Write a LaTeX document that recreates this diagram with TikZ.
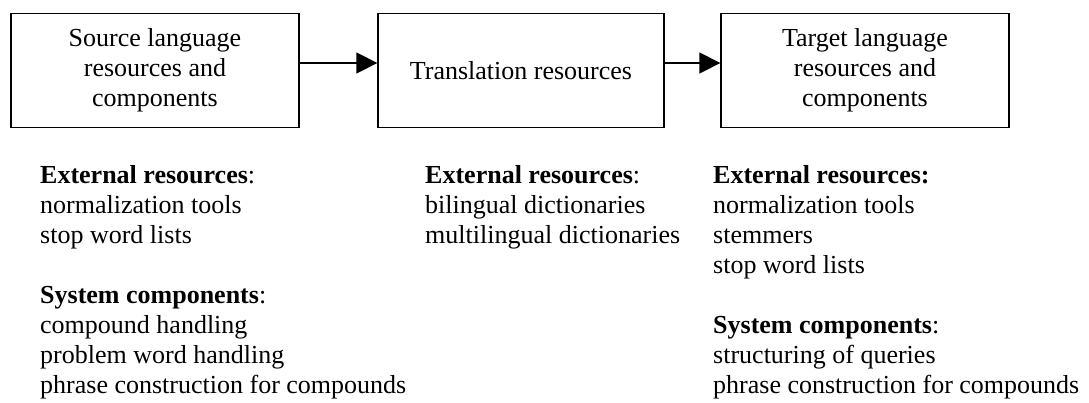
\documentclass[tikz,border=0pt]{standalone}
\usepackage{fontspec}
\setmainfont{Liberation Serif}
\usetikzlibrary{arrows.meta}
\begin{document}
\begin{tikzpicture}[x=1pt,y=-1pt,
  every node/.style={font=\fontsize{26}{30}\selectfont},
  box/.style={draw,line width=1.3pt,minimum height=114.5pt,inner sep=0pt,align=center},
  col/.style={anchor=north west,inner sep=0pt,align=left},
  link/.style={line width=1.3pt,-{Triangle[length=21pt,width=21pt]}}]
\path[use as bounding box] (0,0) rectangle (1089,402);
\node[box,minimum width=288pt] (b1) at (155,70.5) {Source language\\resources and\\components};
\node[box,minimum width=286pt] (b2) at (521,70.5) {Translation resources};
\node[box,minimum width=288pt] (b3) at (865,70.5) {Target language\\resources and\\components};
\draw[link] ([yshift=7.5pt]b1.east) -- ([yshift=7.5pt]b2.west);
\draw[link] ([yshift=7.5pt]b2.east) -- ([yshift=7.5pt]b3.west);
\node[col] (c1) at (40,162) {\strut\textbf{External resources}:\\normalization tools\\stop word lists\\[30pt]\textbf{System components}:\\compound handling\\problem word handling\\phrase construction for compounds};
\node[col] (c2) at (425,162) {\strut\textbf{External resources}:\\bilingual dictionaries\\multilingual dictionaries};
\node[col] (c3) at (713,162) {\strut\textbf{External resources:}\\normalization tools\\stemmers\\stop word lists\\[30pt]\textbf{System components}:\\structuring of queries\\phrase construction for compounds};
\end{tikzpicture}
\end{document}
